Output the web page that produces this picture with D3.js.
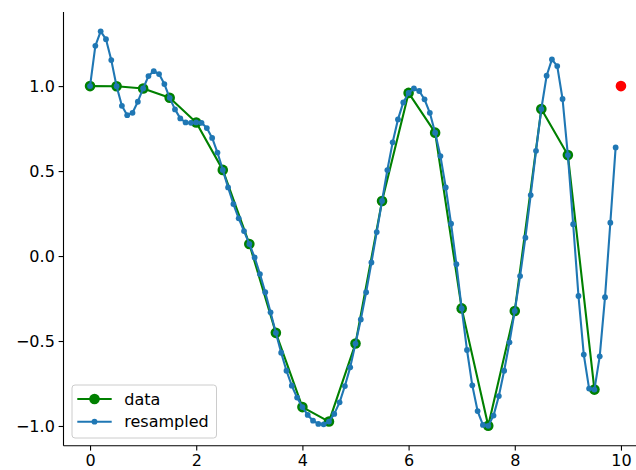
<!DOCTYPE html>
<html>
<head>
<meta charset="utf-8">
<script src="https://cdn.jsdelivr.net/npm/d3@7"></script>
<style>
  html, body { margin: 0; padding: 0; background: #fff; }
  svg { display: block; font-family: "DejaVu Sans", sans-serif; }
</style>
</head>
<body>
<svg id="chart" width="636" height="470"></svg>
<script>
// Original samples
const dataX = [0, 0.5, 1, 1.5, 2, 2.5, 3, 3.5, 4, 4.5, 5, 5.5, 6, 6.5, 7, 7.5, 8, 8.5, 9, 9.5];
const dataY = [1.000, 0.999, 0.986, 0.931, 0.786, 0.507, 0.071, -0.452, -0.889, -0.974,
               -0.515, 0.324, 0.960, 0.726, -0.308, -0.999, -0.323, 0.865, 0.594, -0.786];

// Resampled series (100 points)
const resX = [0.0, 0.1, 0.2, 0.3, 0.4, 0.5, 0.6, 0.7, 0.8, 0.9,
              1.0, 1.1, 1.2, 1.3, 1.4, 1.5, 1.6, 1.7, 1.8, 1.9,
              2.0, 2.1, 2.2, 2.3, 2.4, 2.5, 2.6, 2.7, 2.8, 2.9,
              3.0, 3.1, 3.2, 3.3, 3.4, 3.5, 3.6, 3.7, 3.8, 3.9,
              4.0, 4.1, 4.2, 4.3, 4.4, 4.5, 4.6, 4.7, 4.8, 4.9,
              5.0, 5.1, 5.2, 5.3, 5.4, 5.5, 5.6, 5.7, 5.8, 5.9,
              6.0, 6.1, 6.2, 6.3, 6.4, 6.5, 6.6, 6.7, 6.8, 6.9,
              7.0, 7.1, 7.2, 7.3, 7.4, 7.5, 7.6, 7.7, 7.8, 7.9,
              8.0, 8.1, 8.2, 8.3, 8.4, 8.5, 8.6, 8.7, 8.8, 8.9,
              9.0, 9.1, 9.2, 9.3, 9.4, 9.5, 9.6, 9.7, 9.8, 9.9];
const resY = [1.000, 1.237, 1.322, 1.276, 1.153, 0.999, 0.884, 0.829, 0.843, 0.908,
              0.986, 1.059, 1.088, 1.071, 1.012, 0.931, 0.863, 0.810, 0.786, 0.784,
              0.786, 0.784, 0.753, 0.695, 0.609, 0.507, 0.404, 0.306, 0.222, 0.147,
              0.071, -0.008, -0.106, -0.213, -0.331, -0.452, -0.569, -0.675, -0.763, -0.833,
              -0.889, -0.935, -0.969, -0.988, -0.990, -0.974, -0.929, -0.861, -0.765, -0.655,
              -0.515, -0.373, -0.213, -0.038, 0.141, 0.324, 0.506, 0.669, 0.804, 0.904,
              0.960, 0.986, 0.971, 0.922, 0.843, 0.726, 0.588, 0.404, 0.190, -0.048,
              -0.308, -0.553, -0.761, -0.912, -0.994, -0.999, -0.939, -0.824, -0.675, -0.508,
              -0.323, -0.118, 0.108, 0.359, 0.619, 0.865, 1.061, 1.157, 1.118, 0.924,
              0.594, 0.187, -0.235, -0.580, -0.780, -0.786, -0.590, -0.242, 0.196, 0.639];

// Periodic end point
const endX = [10];
const endY = [1.0];

const xTicks = [0, 2, 4, 6, 8, 10];
const yTicks = [-1.0, -0.5, 0.0, 0.5, 1.0];
const legendLabels = ["data", "resampled"];

const svg = d3.select("#chart");
const x = d3.scaleLinear().domain([-0.5, 10.5]).range([63.5, 647.5]);
const y = d3.scaleLinear().domain([-1.116, 1.436]).range([445.7, 12]);

const green = "#008000", blue = "#1f77b4", red = "#ff0000";
const fontSize = "16px";
const fmtMinus = v => d3.format(".1f")(v).replace("-", "\u2212");

// Axes
const xAxis = svg.append("g")
  .attr("transform", `translate(0,${y.range()[0]})`)
  .call(d3.axisBottom(x).tickValues(xTicks).tickFormat(d3.format("d")).tickSize(4.9).tickPadding(4.5).tickSizeOuter(0));
const yAxis = svg.append("g")
  .attr("transform", `translate(${x.range()[0]},0)`)
  .call(d3.axisLeft(y).tickValues(yTicks).tickFormat(fmtMinus).tickSize(4.9).tickPadding(3.8).tickSizeOuter(0));
[xAxis, yAxis].forEach(g => {
  g.select(".domain").attr("stroke", "#000").attr("stroke-width", 1.1);
  g.selectAll(".tick line").attr("stroke", "#000").attr("stroke-width", 1.1);
  g.selectAll(".tick text").attr("fill", "#000").style("font-size", fontSize).style("font-family", "DejaVu Sans");
});
// spines: left runs to the top of the axes area, bottom to the right edge
yAxis.select(".domain").attr("d", `M0,${y.range()[1]}V${y.range()[0]}`);
xAxis.select(".domain").attr("d", `M${x.range()[0]},0H${x.range()[1]}`);

const plot = svg.append("g");
const lineGen = d3.line().x(d => x(d[0])).y(d => y(d[1]));

// data series
const dataPts = dataX.map((v, i) => [v, dataY[i]]);
plot.append("path").datum(dataPts).attr("d", lineGen)
  .attr("fill", "none").attr("stroke", green).attr("stroke-width", 2.1).attr("stroke-linejoin", "round");
plot.selectAll("circle.data").data(dataPts).join("circle").attr("class", "data")
  .attr("cx", d => x(d[0])).attr("cy", d => y(d[1])).attr("r", 5.3).attr("fill", green);

// resampled series
const resPts = resX.map((v, i) => [v, resY[i]]);
plot.append("path").datum(resPts).attr("d", lineGen)
  .attr("fill", "none").attr("stroke", blue).attr("stroke-width", 2.1).attr("stroke-linejoin", "round");
plot.selectAll("circle.res").data(resPts).join("circle").attr("class", "res")
  .attr("cx", d => x(d[0])).attr("cy", d => y(d[1])).attr("r", 2.9).attr("fill", blue);

// end point
plot.selectAll("circle.end").data(endX.map((v, i) => [v, endY[i]])).join("circle").attr("class", "end")
  .attr("cx", d => x(d[0])).attr("cy", d => y(d[1])).attr("r", 5.3).attr("fill", red);

// Legend
const lg = svg.append("g").attr("transform", "translate(72,385)");
lg.append("rect").attr("width", 144.5).attr("height", 53).attr("rx", 3)
  .attr("fill", "#fff").attr("fill-opacity", 0.8).attr("stroke", "#cccccc").attr("stroke-width", 1);
const entries = [
  { label: legendLabels[0], color: green, r: 5.3 },
  { label: legendLabels[1], color: blue, r: 2.9 }
];
entries.forEach((e, i) => {
  const cy = 14 + i * 22.7;
  lg.append("line").attr("x1", 5.3).attr("x2", 39.7).attr("y1", cy).attr("y2", cy)
    .attr("stroke", e.color).attr("stroke-width", 2.1);
  lg.append("circle").attr("cx", 22.5).attr("cy", cy).attr("r", e.r).attr("fill", e.color);
  lg.append("text").attr("x", 52.3).attr("y", cy).attr("dy", "0.36em")
    .style("font-size", fontSize).attr("fill", "#000").text(e.label);
});
</script>
</body>
</html>
